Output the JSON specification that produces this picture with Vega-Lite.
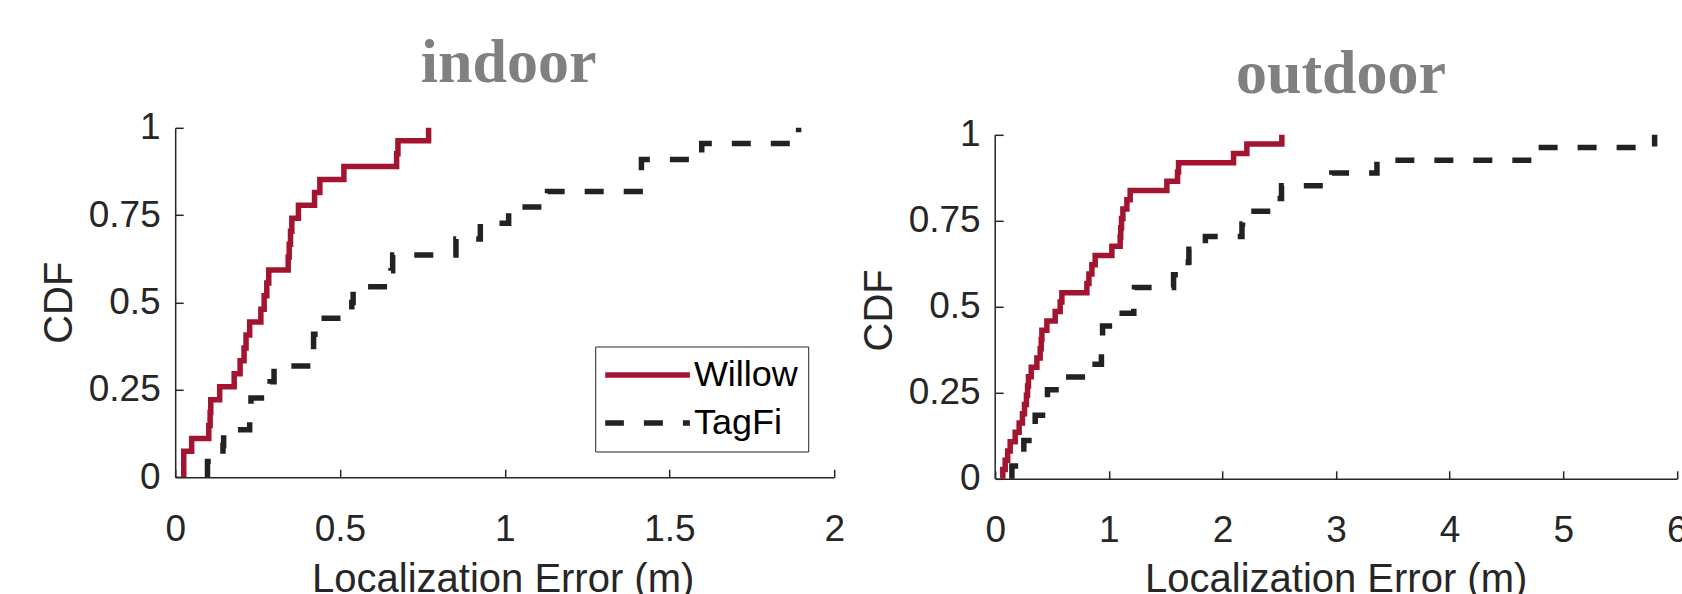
{
  "$schema": "https://vega.github.io/schema/vega-lite/v6.json",
  "autosize": {"type": "pad"},
  "padding": {"left": 39.2, "top": 31.8, "right": 0, "bottom": 0},
  "background": "white",
  "bounds": "flush",
  "spacing": 161,
  "datasets": {
    "indoor": [
      {"error": 0.026, "cdf": 0, "method": "Willow"},
      {"error": 0.026, "cdf": 0.074, "method": "Willow"},
      {"error": 0.050, "cdf": 0.111, "method": "Willow"},
      {"error": 0.102, "cdf": 0.148, "method": "Willow"},
      {"error": 0.106, "cdf": 0.185, "method": "Willow"},
      {"error": 0.108, "cdf": 0.222, "method": "Willow"},
      {"error": 0.135, "cdf": 0.259, "method": "Willow"},
      {"error": 0.179, "cdf": 0.296, "method": "Willow"},
      {"error": 0.197, "cdf": 0.333, "method": "Willow"},
      {"error": 0.209, "cdf": 0.370, "method": "Willow"},
      {"error": 0.215, "cdf": 0.407, "method": "Willow"},
      {"error": 0.226, "cdf": 0.444, "method": "Willow"},
      {"error": 0.260, "cdf": 0.481, "method": "Willow"},
      {"error": 0.270, "cdf": 0.519, "method": "Willow"},
      {"error": 0.278, "cdf": 0.556, "method": "Willow"},
      {"error": 0.284, "cdf": 0.593, "method": "Willow"},
      {"error": 0.343, "cdf": 0.630, "method": "Willow"},
      {"error": 0.346, "cdf": 0.667, "method": "Willow"},
      {"error": 0.350, "cdf": 0.704, "method": "Willow"},
      {"error": 0.354, "cdf": 0.741, "method": "Willow"},
      {"error": 0.374, "cdf": 0.778, "method": "Willow"},
      {"error": 0.423, "cdf": 0.815, "method": "Willow"},
      {"error": 0.439, "cdf": 0.852, "method": "Willow"},
      {"error": 0.512, "cdf": 0.889, "method": "Willow"},
      {"error": 0.672, "cdf": 0.926, "method": "Willow"},
      {"error": 0.676, "cdf": 0.963, "method": "Willow"},
      {"error": 0.769, "cdf": 1.0, "method": "Willow"},
      {"error": 0.098, "cdf": 0, "method": "TagFi"},
      {"error": 0.098, "cdf": 0.045, "method": "TagFi"},
      {"error": 0.145, "cdf": 0.091, "method": "TagFi"},
      {"error": 0.147, "cdf": 0.136, "method": "TagFi"},
      {"error": 0.226, "cdf": 0.182, "method": "TagFi"},
      {"error": 0.230, "cdf": 0.227, "method": "TagFi"},
      {"error": 0.288, "cdf": 0.273, "method": "TagFi"},
      {"error": 0.300, "cdf": 0.318, "method": "TagFi"},
      {"error": 0.418, "cdf": 0.364, "method": "TagFi"},
      {"error": 0.420, "cdf": 0.409, "method": "TagFi"},
      {"error": 0.424, "cdf": 0.455, "method": "TagFi"},
      {"error": 0.536, "cdf": 0.500, "method": "TagFi"},
      {"error": 0.540, "cdf": 0.545, "method": "TagFi"},
      {"error": 0.655, "cdf": 0.591, "method": "TagFi"},
      {"error": 0.660, "cdf": 0.636, "method": "TagFi"},
      {"error": 0.852, "cdf": 0.682, "method": "TagFi"},
      {"error": 0.926, "cdf": 0.727, "method": "TagFi"},
      {"error": 1.012, "cdf": 0.773, "method": "TagFi"},
      {"error": 1.130, "cdf": 0.818, "method": "TagFi"},
      {"error": 1.411, "cdf": 0.864, "method": "TagFi"},
      {"error": 1.415, "cdf": 0.909, "method": "TagFi"},
      {"error": 1.598, "cdf": 0.955, "method": "TagFi"},
      {"error": 1.892, "cdf": 1.0, "method": "TagFi"}
    ],
    "outdoor": [
      {"error": 0.067, "cdf": 0, "method": "Willow"},
      {"error": 0.067, "cdf": 0.027, "method": "Willow"},
      {"error": 0.088, "cdf": 0.054, "method": "Willow"},
      {"error": 0.110, "cdf": 0.081, "method": "Willow"},
      {"error": 0.132, "cdf": 0.108, "method": "Willow"},
      {"error": 0.176, "cdf": 0.135, "method": "Willow"},
      {"error": 0.211, "cdf": 0.162, "method": "Willow"},
      {"error": 0.240, "cdf": 0.189, "method": "Willow"},
      {"error": 0.258, "cdf": 0.216, "method": "Willow"},
      {"error": 0.275, "cdf": 0.243, "method": "Willow"},
      {"error": 0.285, "cdf": 0.270, "method": "Willow"},
      {"error": 0.293, "cdf": 0.297, "method": "Willow"},
      {"error": 0.317, "cdf": 0.324, "method": "Willow"},
      {"error": 0.367, "cdf": 0.351, "method": "Willow"},
      {"error": 0.396, "cdf": 0.378, "method": "Willow"},
      {"error": 0.405, "cdf": 0.405, "method": "Willow"},
      {"error": 0.411, "cdf": 0.432, "method": "Willow"},
      {"error": 0.455, "cdf": 0.459, "method": "Willow"},
      {"error": 0.528, "cdf": 0.486, "method": "Willow"},
      {"error": 0.572, "cdf": 0.514, "method": "Willow"},
      {"error": 0.587, "cdf": 0.541, "method": "Willow"},
      {"error": 0.807, "cdf": 0.568, "method": "Willow"},
      {"error": 0.825, "cdf": 0.595, "method": "Willow"},
      {"error": 0.851, "cdf": 0.622, "method": "Willow"},
      {"error": 0.880, "cdf": 0.649, "method": "Willow"},
      {"error": 1.027, "cdf": 0.676, "method": "Willow"},
      {"error": 1.100, "cdf": 0.703, "method": "Willow"},
      {"error": 1.105, "cdf": 0.730, "method": "Willow"},
      {"error": 1.112, "cdf": 0.757, "method": "Willow"},
      {"error": 1.124, "cdf": 0.784, "method": "Willow"},
      {"error": 1.159, "cdf": 0.811, "method": "Willow"},
      {"error": 1.188, "cdf": 0.838, "method": "Willow"},
      {"error": 1.511, "cdf": 0.865, "method": "Willow"},
      {"error": 1.605, "cdf": 0.892, "method": "Willow"},
      {"error": 1.614, "cdf": 0.919, "method": "Willow"},
      {"error": 2.098, "cdf": 0.946, "method": "Willow"},
      {"error": 2.215, "cdf": 0.973, "method": "Willow"},
      {"error": 2.523, "cdf": 1.0, "method": "Willow"},
      {"error": 0.147, "cdf": 0, "method": "TagFi"},
      {"error": 0.147, "cdf": 0.037, "method": "TagFi"},
      {"error": 0.250, "cdf": 0.074, "method": "TagFi"},
      {"error": 0.252, "cdf": 0.111, "method": "TagFi"},
      {"error": 0.346, "cdf": 0.148, "method": "TagFi"},
      {"error": 0.352, "cdf": 0.185, "method": "TagFi"},
      {"error": 0.455, "cdf": 0.222, "method": "TagFi"},
      {"error": 0.460, "cdf": 0.259, "method": "TagFi"},
      {"error": 0.572, "cdf": 0.296, "method": "TagFi"},
      {"error": 0.807, "cdf": 0.333, "method": "TagFi"},
      {"error": 0.935, "cdf": 0.370, "method": "TagFi"},
      {"error": 0.939, "cdf": 0.407, "method": "TagFi"},
      {"error": 0.945, "cdf": 0.444, "method": "TagFi"},
      {"error": 1.056, "cdf": 0.481, "method": "TagFi"},
      {"error": 1.220, "cdf": 0.519, "method": "TagFi"},
      {"error": 1.226, "cdf": 0.556, "method": "TagFi"},
      {"error": 1.570, "cdf": 0.593, "method": "TagFi"},
      {"error": 1.700, "cdf": 0.630, "method": "TagFi"},
      {"error": 1.705, "cdf": 0.667, "method": "TagFi"},
      {"error": 1.850, "cdf": 0.704, "method": "TagFi"},
      {"error": 2.172, "cdf": 0.741, "method": "TagFi"},
      {"error": 2.177, "cdf": 0.778, "method": "TagFi"},
      {"error": 2.465, "cdf": 0.815, "method": "TagFi"},
      {"error": 2.520, "cdf": 0.852, "method": "TagFi"},
      {"error": 2.963, "cdf": 0.889, "method": "TagFi"},
      {"error": 3.360, "cdf": 0.926, "method": "TagFi"},
      {"error": 4.724, "cdf": 0.963, "method": "TagFi"},
      {"error": 5.804, "cdf": 1.0, "method": "TagFi"}
    ]
  },
  "hconcat": [
    {
      "width": 659,
      "height": 349.4,
      "title": {"text": "indoor", "font": "Liberation Serif", "fontSize": 62, "fontWeight": "bold", "color": "#808080", "anchor": "middle", "frame": "group", "baseline": "alphabetic", "offset": -35, "dx": 4},
      "data": {"name": "indoor"},
      "mark": {"type": "line", "interpolate": "step-after", "strokeWidth": 5.5},
      "encoding": {
        "x": {"field": "error", "type": "quantitative", "scale": {"domain": [0, 2], "nice": false}, "axis": {"title": "Localization Error (m)", "values": [0, 0.5, 1, 1.5, 2], "titleX": 327.5, "titleY": 114.8}},
        "y": {"field": "cdf", "type": "quantitative", "scale": {"domain": [0, 1], "nice": false}, "axis": {"title": "CDF", "values": [0, 0.25, 0.5, 0.75, 1], "titleX": -104, "titleY": 174.4}},
        "color": {"field": "method", "type": "nominal", "scale": {"domain": ["Willow", "TagFi"], "range": ["#A2142F", "#222222"]},
          "legend": {"orient": "none", "legendX": 420, "legendY": 218.7}},
        "strokeDash": {"field": "method", "type": "nominal", "scale": {"domain": ["Willow", "TagFi"], "range": [[1, 0], [19, 20]]},
          "legend": {"orient": "none", "legendX": 420, "legendY": 218.7}}
      }
    },
    {
      "width": 681.7,
      "height": 351,
      "title": {"text": "outdoor", "font": "Liberation Serif", "fontSize": 62, "fontWeight": "bold", "color": "#808080", "anchor": "middle", "frame": "group", "baseline": "alphabetic", "offset": -39.2, "dx": 5},
      "layer": [
        {
          "data": {"name": "outdoor"},
          "mark": {"type": "line", "interpolate": "step-after", "strokeWidth": 5.5},
          "encoding": {
            "x": {"field": "error", "type": "quantitative", "scale": {"domain": [0, 6], "nice": false}, "axis": {"title": "Localization Error (m)", "values": [0, 1, 2, 3, 4, 5, 6], "titleX": 340.5, "titleY": 113.2}},
            "y": {"field": "cdf", "type": "quantitative", "scale": {"domain": [0, 1.02035], "nice": false}, "axis": {"title": "CDF", "values": [0, 0.25, 0.5, 0.75, 1], "domain": false, "titleX": -104, "titleY": 182}},
            "color": {"field": "method", "type": "nominal", "scale": {"domain": ["Willow", "TagFi"], "range": ["#A2142F", "#222222"]},
              "legend": {"orient": "none", "legendX": 443, "legendY": 229.4}},
            "strokeDash": {"field": "method", "type": "nominal", "scale": {"domain": ["Willow", "TagFi"], "range": [[1, 0], [19, 20]]},
              "legend": {"orient": "none", "legendX": 443, "legendY": 229.4}}
          }
        },
        {
          "data": {"values": [{}]},
          "mark": {"type": "rule", "color": "#262626", "strokeWidth": 1.5},
          "encoding": {
            "x": {"datum": 0, "type": "quantitative"},
            "y": {"datum": 0, "type": "quantitative"},
            "y2": {"datum": 1}
          }
        }
      ]
    }
  ],
  "config": {
    "view": {"stroke": null},
    "font": "Liberation Sans",
    "axis": {
      "domainColor": "#262626", "domainWidth": 1.5,
      "tickColor": "#262626", "tickWidth": 1.5, "tickSize": -8,
      "labelFont": "Liberation Sans", "labelFontSize": 37, "labelColor": "#262626",
      "titleFont": "Liberation Sans", "titleFontSize": 40, "titleFontWeight": "normal", "titleColor": "#262626",
      "titleBaseline": "alphabetic",
      "grid": false, "labelFlush": false, "labelOverlap": false,
      "labelExpr": "toString(datum.value)"
    },
    "axisX": {"labelPadding": 42},
    "axisY": {"labelPadding": 23},
    "legend": {
      "title": null, "symbolType": "stroke", "symbolSize": 7225, "symbolStrokeWidth": 5.5,
      "clipHeight": 37, "rowPadding": 11, "labelOffset": 1, "symbolOffset": -3.3, "padding": 10,
      "strokeColor": "#262626", "fillColor": "white",
      "labelFont": "Liberation Sans", "labelFontSize": 36, "labelColor": "black", "labelLimit": 300
    }
  }
}
